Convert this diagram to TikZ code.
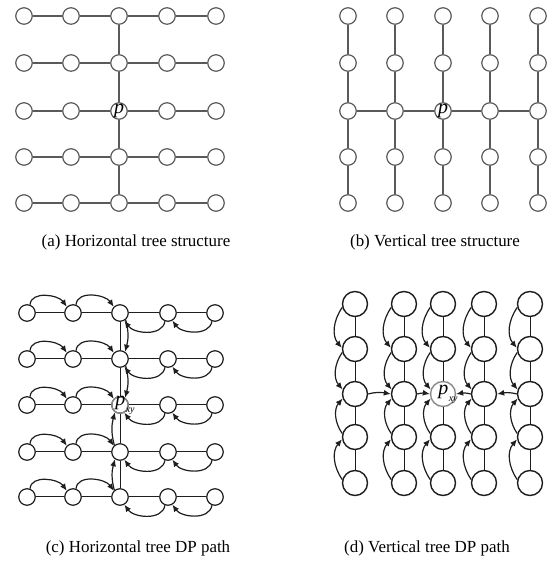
\documentclass[tikz,border=0pt]{standalone}
\usepackage{fontspec}
\setmainfont{Liberation Serif}
\usetikzlibrary{arrows.meta}
\definecolor{gline}{HTML}{5A5A5A}
\definecolor{dline}{HTML}{1E1E1E}
\definecolor{pcirc}{HTML}{8A8A8A}
\newcommand{\pxy}{p\kern0.5bp\raisebox{-0.35em}{\fontsize{10}{10}\selectfont\itshape xy}}
\begin{document}
\begin{tikzpicture}[x=1bp,y=1bp,
  gnode/.style={circle,draw=gline,line width=1.2bp,minimum size=16.5bp,inner sep=0pt},
  dnode/.style={circle,draw=dline,line width=1.2bp,minimum size=16.5bp,inner sep=0pt},
  bignode/.style={circle,draw=dline,line width=1.4bp,minimum size=25bp,inner sep=0pt},
  gedge/.style={draw=gline,line width=1.3bp},
  dedge/.style={draw=dline,line width=1bp},
  dparc/.style={draw=dline,line width=1.2bp,-{Latex[length=7bp,width=6bp]}},
  caption/.style={font=\fontsize{17}{20}\selectfont,inner sep=0pt},
  plabel/.style={font=\fontsize{20}{20}\selectfont\itshape,inner sep=0pt}]
\useasboundingbox (0,0) rectangle (558,562);

% ---------- (a) horizontal tree ----------
\foreach \r/\yy in {0/546,1/499,2/451,3/405,4/359}
  \foreach \c/\xx in {0/24,1/71,2/119,3/167,4/216}
    \node[gnode] (a-\r-\c) at (\xx,\yy) {};
\foreach \r in {0,...,4}
  \foreach \c/\n in {0/1,1/2,2/3,3/4}
    \draw[gedge] (a-\r-\c) -- (a-\r-\n);
\foreach \r/\n in {0/1,1/2,2/3,3/4}
  \draw[gedge] (a-\r-2) -- (a-\n-2);
\node[plabel] (a-p) at (a-2-2) {p};
\node[caption] (a-cap) at (136,320) {(a) Horizontal tree structure};

% ---------- (b) vertical tree ----------
\foreach \r/\yy in {0/546,1/499,2/451,3/405,4/359}
  \foreach \c/\xx in {0/348,1/395,2/443,3/490,4/538}
    \node[gnode] (b-\r-\c) at (\xx,\yy) {};
\foreach \c in {0,...,4}
  \foreach \r/\n in {0/1,1/2,2/3,3/4}
    \draw[gedge] (b-\r-\c) -- (b-\n-\c);
\foreach \c/\n in {0/1,1/2,2/3,3/4}
  \draw[gedge] (b-2-\c) -- (b-2-\n);
\node[plabel] (b-p) at (b-2-2) {p};
\node[caption] (b-cap) at (435,320) {(b) Vertical tree structure};

% ---------- (c) horizontal tree DP path ----------
\foreach \r/\yy in {0/249,1/203,2/157,3/110,4/65}
  \foreach \c/\xx in {0/27,1/73,2/120,3/168,4/215}
    \node[dnode] (c-\r-\c) at (\xx,\yy) {};
\foreach \r in {0,...,4}
  \foreach \c/\n in {0/1,1/2,2/3,3/4}
    \draw[dedge] (c-\r-\c) -- (c-\r-\n);
\foreach \r/\n in {0/1,1/2,2/3,3/4}
  \draw[dedge] (c-\r-2) -- (c-\n-2);
\foreach \r in {0,...,4}{
  \draw[dparc] (c-\r-0.70) to[out=85,in=125] (c-\r-1.135);
  \draw[dparc] (c-\r-1.70) to[out=85,in=125] (c-\r-2.135);
  \draw[dparc] (c-\r-4.-110) to[out=-100,in=-55] (c-\r-3.-60);
  \draw[dparc] (c-\r-3.-110) to[out=-100,in=-55] (c-\r-2.-60);
}
\draw[dparc] (c-0-2.-50) to[out=-75,in=75] (c-1-2.55);
\draw[dparc] (c-1-2.-50) to[out=-75,in=75] (c-2-2.55);
\draw[dparc] (c-4-2.130) to[out=105,in=-105] (c-3-2.-125);
\draw[dparc] (c-3-2.130) to[out=105,in=-105] (c-2-2.-125);
\draw[pcirc,line width=1.2bp] (c-2-2) circle[radius=8.25bp];
\node[plabel,xshift=5bp] (c-p) at (c-2-2) {\pxy};
\node[caption] (c-cap) at (138,14) {(c) Horizontal tree DP path};

% ---------- (d) vertical tree DP path ----------
\foreach \r/\yy in {0/258,1/213,2/168,3/125,4/79}
  \foreach \c/\xx in {0/355,1/404,2/443,3/484,4/530}
    \node[bignode] (d-\r-\c) at (\xx,\yy) {};
\draw[white,line width=2bp] (d-2-2) circle[radius=12.5bp];
\draw[pcirc,line width=1.3bp] (d-2-2) circle[radius=12.5bp];
\foreach \c in {0,...,4}{
  \foreach \r/\n in {0/1,1/2,2/3,3/4}
    \draw[dedge] (d-\r-\c) -- (d-\n-\c);
  \draw[dparc] (d-0-\c.195) to[out=235,in=130] (d-1-\c.175);
  \draw[dparc] (d-1-\c.195) to[out=235,in=130] (d-2-\c.160);
  \draw[dparc] (d-4-\c.165) to[out=125,in=230] (d-3-\c.190);
  \draw[dparc] (d-3-\c.165) to[out=125,in=230] (d-2-\c.200);
}
\draw[dparc] (d-2-0.east) to[out=15,in=170] (d-2-1.west);
\draw[dparc] (d-2-1.east) to[out=15,in=170] (d-2-2.west);
\draw[dparc] (d-2-4.west) to[out=165,in=10] (d-2-3.east);
\draw[dparc] (d-2-3.west) to[out=165,in=10] (d-2-2.east);
\node[plabel,xshift=5bp] (d-p) at (d-2-2) {\pxy};
\node[caption] (d-cap) at (427,14) {(d) Vertical tree DP path};
\end{tikzpicture}
\end{document}
